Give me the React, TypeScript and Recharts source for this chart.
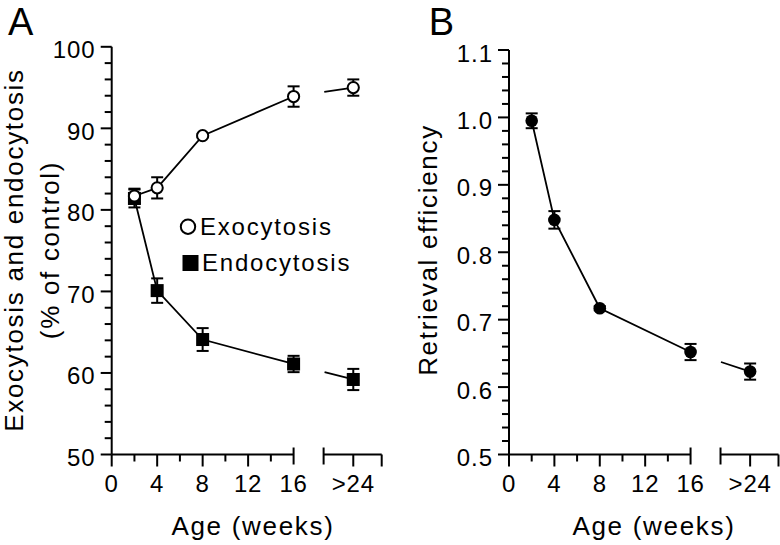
import React from "react";
import { LineChart, Line, XAxis, YAxis, ErrorBar, ReferenceLine, Legend } from "recharts";

// age groups in weeks; ">24" sits at 21.25 on the broken axis
const AGE_POS = [2, 4, 8, 16, 21.25];
const AGE_TICKS = [0, 4, 8, 12, 16];
const LAST_POS = 21.25;
const LAST_LABEL = ">24";
const BREAK_AT = 16;
const RESUME_AT = 18.64;
const AXIS_END = 23.75;

// panel A (% of control)
const EXO = [81.7, 82.7, 89.1, 93.9, 95.0];
const EXO_ERR = [0.9, 1.3, 0.2, 1.25, 1.0];
const ENDO = [81.4, 70.1, 64.1, 61.1, 59.2];
const ENDO_ERR = [1.1, 1.5, 1.4, 1.0, 1.3];

// panel B
const RETR = [0.995, 0.848, 0.717, 0.652, 0.623];
const RETR_ERR = [0.011, 0.013, 0.003, 0.012, 0.012];

const Y_MAJOR_A = [50, 60, 70, 80, 90, 100];
const Y_MAJOR_B = [0.5, 0.6, 0.7, 0.8, 0.9, 1.0, 1.1];

const FONT = '"Liberation Sans", Arial, Helvetica, sans-serif';

const yMinorA = Array.from({ length: 26 }, (_, i) => 50 + i * 2);
const yMinorB = Array.from({ length: 31 }, (_, i) => Math.round((0.5 + i * 0.02) * 100) / 100);
const xTicks = [0, 2, 4, 6, 8, 10, 12, 14, 16, RESUME_AT, LAST_POS, AXIS_END];

// main line stops at 16, the tail runs 16 -> >24 (drawn with a gap)
function addSeries(rows: any[], key: string, vals: number[], errs: number[]) {
  const last = vals.length - 1;
  rows.forEach((r, i) => {
    r[key] = i < last ? vals[i] : null;
    r[key + "Err"] = i < last ? errs[i] : null;
    r[key + "T"] = i >= last - 1 ? vals[i] : null;
    r[key + "TErr"] = i === last ? errs[i] : null;
  });
  return rows;
}

const dataA = addSeries(addSeries(AGE_POS.map((x) => ({ x })), "exo", EXO, EXO_ERR), "endo", ENDO, ENDO_ERR);
const dataB = addSeries(AGE_POS.map((x) => ({ x })), "retr", RETR, RETR_ERR);

const txt = { fontFamily: FONT, fill: "#000" };

function XTick({ x, y, payload }: any) {
  const v = payload.value;
  let y1 = 0, y2 = 12;
  if (v === BREAK_AT || v === RESUME_AT) { y1 = -7; y2 = 10; }
  else if (v % 4 !== 0 && v !== LAST_POS && v !== AXIS_END) y2 = 7;
  const label = AGE_TICKS.includes(v) ? String(v) : v === LAST_POS ? LAST_LABEL : null;
  return (
    <g>
      <line x1={x} x2={x} y1={y + y1} y2={y + y2} stroke="#000" strokeWidth={2} />
      {label && (
        <text x={x} y={y + 37} textAnchor="middle" fontSize={24} letterSpacing={0.8} {...txt}>{label}</text>
      )}
    </g>
  );
}

function makeYTick(major: number[], fmt: (v: number) => string) {
  return ({ x, y, payload }: any) => {
    const isMajor = major.some((m) => Math.abs(m - payload.value) < 1e-6);
    return (
      <g>
        <line x1={x - (isMajor ? 11 : 7)} x2={x} y1={y} y2={y} stroke="#000" strokeWidth={2} />
        {isMajor && (
          <text x={x - 16} y={y + 11.5} textAnchor="end" fontSize={24} letterSpacing={1} {...txt}>{fmt(payload.value)}</text>
        )}
      </g>
    );
  };
}

const openCircle = (p: any) =>
  p.cx == null || p.cy == null || p.value == null
    ? <g key={p.key ?? p.index} />
    : <circle key={p.key ?? p.index} cx={p.cx} cy={p.cy} r={5.6} fill="#fff" stroke="#000" strokeWidth={2} />;

const filledSquare = (p: any) =>
  p.cx == null || p.cy == null || p.value == null
    ? <g key={p.key ?? p.index} />
    : <rect key={p.key ?? p.index} x={p.cx - 6.5} y={p.cy - 6.5} width={13} height={13} fill="#000" />;

const filledCircle = (p: any) =>
  p.cx == null || p.cy == null || p.value == null
    ? <g key={p.key ?? p.index} />
    : <circle key={p.key ?? p.index} cx={p.cx} cy={p.cy} r={6.3} fill="#000" />;

// the tail only shows its >24 marker
const tailOnly = (render: (p: any) => any) => (p: any) =>
  p.index === AGE_POS.length - 1 ? render(p) : <g key={p.key ?? p.index} />;

function LegendA({ payload }: any) {
  const items = (payload || []).filter((e: any) => e.type !== "none");
  return (
    <svg width={200} height={80}>
      {items.map((e: any) => (
        <g key={e.value}>
          {e.dataKey === "exo"
            ? <circle cx={18} cy={21.7} r={7.2} fill="#fff" stroke="#000" strokeWidth={2} />
            : <rect x={12.5} y={50} width={16} height={16} fill="#000" />}
          <text x={e.dataKey === "exo" ? 30 : 32} y={e.dataKey === "exo" ? 30 : 66} fontSize={24} letterSpacing={1.8} {...txt}>
            {e.value}
          </text>
        </g>
      ))}
    </svg>
  );
}

const axisTitle = { fontSize: 26, letterSpacing: 1.7, ...txt };

export default function App() {
  const segs = (y: number) => [
    <ReferenceLine key="s1" segment={[{ x: 0, y }, { x: BREAK_AT, y }]} stroke="#000" strokeWidth={2} ifOverflow="visible" />,
    <ReferenceLine key="s2" segment={[{ x: RESUME_AT, y }, { x: AXIS_END, y }]} stroke="#000" strokeWidth={2} ifOverflow="visible" />,
  ];

  return (
    <div style={{ position: "absolute", left: 0, top: 0, width: 780, height: 545, background: "#fff", fontFamily: FONT }}>
      {/* Panel A */}
      <div style={{ position: "absolute", left: 0, top: 0 }}>
        <LineChart width={390} height={545} data={dataA} margin={{ top: 46.8, right: 8.3, left: 0, bottom: 0 }}>
          <XAxis dataKey="x" type="number" domain={[0, AXIS_END]} ticks={xTicks} interval={0}
            axisLine={false} tickLine={false} tickSize={0} tickMargin={0} height={90.5}
            tick={(p: any) => <XTick {...p} />}
            label={{ content: () => <text x={253} y={535} textAnchor="middle" {...axisTitle}>Age (weeks)</text> }} />
          <YAxis type="number" domain={[50, 100]} ticks={yMinorA} interval={0} width={111.7}
            axisLine={{ stroke: "#000", strokeWidth: 2 }} tickLine={false} tickSize={0} tickMargin={0}
            tick={makeYTick(Y_MAJOR_A, (v) => String(v))}
            label={{
              content: () => (
                <g>
                  <text x={8} y={35} fontSize={38} {...txt}>A</text>
                  <text transform="rotate(-90)" x={-250} y={23} textAnchor="middle" {...axisTitle}>Exocytosis and endocytosis</text>
                  <text transform="rotate(-90)" x={-250} y={58.5} textAnchor="middle" {...axisTitle}>(% of control)</text>
                </g>
              ),
            }} />
          {segs(50)}
          <Line dataKey="exoT" stroke="#000" strokeWidth={1.8} strokeDasharray="0 31 2000" dot={tailOnly(openCircle)}
            legendType="none" isAnimationActive={false}>
            <ErrorBar dataKey="exoTErr" width={6} strokeWidth={2} stroke="#000" direction="y" />
          </Line>
          <Line dataKey="endoT" stroke="#000" strokeWidth={1.8} strokeDasharray="0 32 2000" dot={tailOnly(filledSquare)}
            legendType="none" isAnimationActive={false}>
            <ErrorBar dataKey="endoTErr" width={6} strokeWidth={2} stroke="#000" direction="y" />
          </Line>
          <Line dataKey="endo" name="Endocytosis" stroke="#000" strokeWidth={1.8} dot={filledSquare} isAnimationActive={false}>
            <ErrorBar dataKey="endoErr" width={6} strokeWidth={2} stroke="#000" direction="y" />
          </Line>
          <Line dataKey="exo" name="Exocytosis" stroke="#000" strokeWidth={1.8} dot={openCircle} isAnimationActive={false}>
            <ErrorBar dataKey="exoErr" width={6} strokeWidth={2} stroke="#000" direction="y" />
          </Line>
          <Legend layout="vertical" align="center" verticalAlign="middle" content={LegendA}
            itemSorter={(e: any) => (e.dataKey === "exo" ? 0 : 1)}
            wrapperStyle={{ left: 170, top: 205, width: 200, height: 80 }} />
        </LineChart>
      </div>

      {/* Panel B */}
      <div style={{ position: "absolute", left: 390, top: 0 }}>
        <LineChart width={390} height={545} data={dataB} margin={{ top: 50, right: 1.5, left: 0, bottom: 0 }}>
          <XAxis dataKey="x" type="number" domain={[0, AXIS_END]} ticks={xTicks} interval={0}
            axisLine={false} tickLine={false} tickSize={0} tickMargin={0} height={90.5}
            tick={(p: any) => <XTick {...p} />}
            label={{ content: () => <text x={264} y={535} textAnchor="middle" {...axisTitle}>Age (weeks)</text> }} />
          <YAxis type="number" domain={[0.5, 1.1]} ticks={yMinorB} interval={0} width={119}
            axisLine={{ stroke: "#000", strokeWidth: 2 }} tickLine={false} tickSize={0} tickMargin={0}
            tick={makeYTick(Y_MAJOR_B, (v) => v.toFixed(1))}
            label={{
              content: () => (
                <g>
                  <text x={38.7} y={35} fontSize={38} {...txt}>B</text>
                  <text transform="rotate(-90)" x={-250} y={47} textAnchor="middle" {...axisTitle}>Retrieval efficiency</text>
                </g>
              ),
            }} />
          {segs(0.5)}
          <Line dataKey="retrT" stroke="#000" strokeWidth={1.8} strokeDasharray="0 32 2000" dot={tailOnly(filledCircle)}
            legendType="none" isAnimationActive={false}>
            <ErrorBar dataKey="retrTErr" width={6} strokeWidth={2} stroke="#000" direction="y" />
          </Line>
          <Line dataKey="retr" stroke="#000" strokeWidth={1.8} dot={filledCircle} isAnimationActive={false}>
            <ErrorBar dataKey="retrErr" width={6} strokeWidth={2} stroke="#000" direction="y" />
          </Line>
        </LineChart>
      </div>
    </div>
  );
}
